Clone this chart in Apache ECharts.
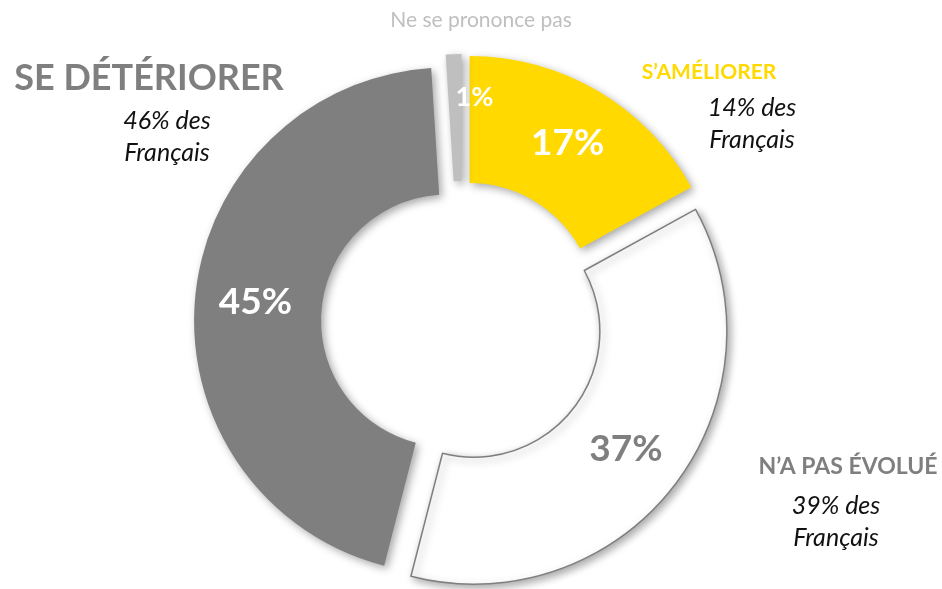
<!DOCTYPE html>
<html>
<head>
<meta charset="utf-8">
<script src="https://cdn.jsdelivr.net/npm/echarts@6/dist/echarts.min.js"></script>
<style>
  html, body { margin: 0; padding: 0; background: #fff; }
  #chart { width: 942px; height: 589px; }
</style>
</head>
<body>
<div id="chart"></div>
<script>
// données
var categories = ['S’AMÉLIORER', 'N’A PAS ÉVOLUÉ', 'SE DÉTÉRIORER', 'Ne se prononce pas'];
var shares = [17, 37, 45, 1];
var frenchShares = [14, 39, 46]; // "% des Français"

var colors = ['#FFD900', '#FFFFFF', '#7F7F7F', '#BFBFBF'];
var labelColors = ['#FFFFFF', '#7F7F7F', '#FFFFFF', '#FFFFFF'];
var font = 'Lato, "Open Sans", sans-serif';

var chart = echarts.init(document.getElementById('chart'));

var pieData = shares.map(function (v, i) {
    var style = {
        color: colors[i],
        borderColor: i === 1 ? '#7F7F7F' : 'transparent',
        borderWidth: i === 1 ? 1.5 : 0
    };
    return {
        name: categories[i],
        value: v,
        selected: true,
        itemStyle: style,
        select: { itemStyle: style },
        label: {
            color: labelColors[i],
            fontSize: i === 3 ? 27 : 37
        }
    };
});

// titres autour du donut
function textBlock(title, color, size, x, y, share, x2, y2) {
    var els = [{
        type: 'text',
        x: x, y: y,
        style: {
            text: title, fill: color, font: 'bold ' + size + 'px ' + font,
            textAlign: 'center', textVerticalAlign: 'middle'
        }
    }];
    if (share != null) {
        els.push({
            type: 'text',
            x: x2, y: y2,
            style: {
                text: share + '% des\nFrançais', fill: '#111', font: 'italic 25px ' + font,
                textAlign: 'center', textVerticalAlign: 'middle', lineHeight: 32
            }
        });
    }
    return els;
}

var graphics = []
    .concat(textBlock(categories[0], '#FFD900', 21, 709, 72, frenchShares[0], 752, 124))
    .concat(textBlock(categories[1], '#7F7F7F', 23, 848, 467, frenchShares[1], 836, 522))
    .concat(textBlock(categories[2], '#7F7F7F', 36, 149, 78, frenchShares[2], 167, 137))
    .concat([{
        type: 'text',
        x: 481, y: 20,
        style: {
            text: categories[3], fill: '#BFBFBF', font: '21px ' + font,
            textAlign: 'center', textVerticalAlign: 'middle'
        }
    }]);

var options = {
    animation: false,
    graphic: graphics,
    series: [{
        type: 'pie',
        center: [462, 322],
        radius: [126, 253],
        startAngle: 90,
        clockwise: true,
        selectedMode: 'multiple',
        selectedOffset: 15,
        avoidLabelOverlap: false,
        itemStyle: {
            shadowBlur: 8,
            shadowOffsetX: 3,
            shadowOffsetY: 3,
            shadowColor: 'rgba(0,0,0,0.35)'
        },
        emphasis: { scale: false, disabled: true },
        label: {
            show: true,
            position: 'inside',
            formatter: '{c}%',
            fontFamily: font,
            fontWeight: 'bold'
        },
        labelLine: { show: false },
        labelLayout: function (params) {
            if (params.dataIndex === 3) {
                return { dx: 19, dy: -17 };
            }
            return {};
        },
        data: pieData
    }]
};

chart.setOption(options);
</script>
</body>
</html>
